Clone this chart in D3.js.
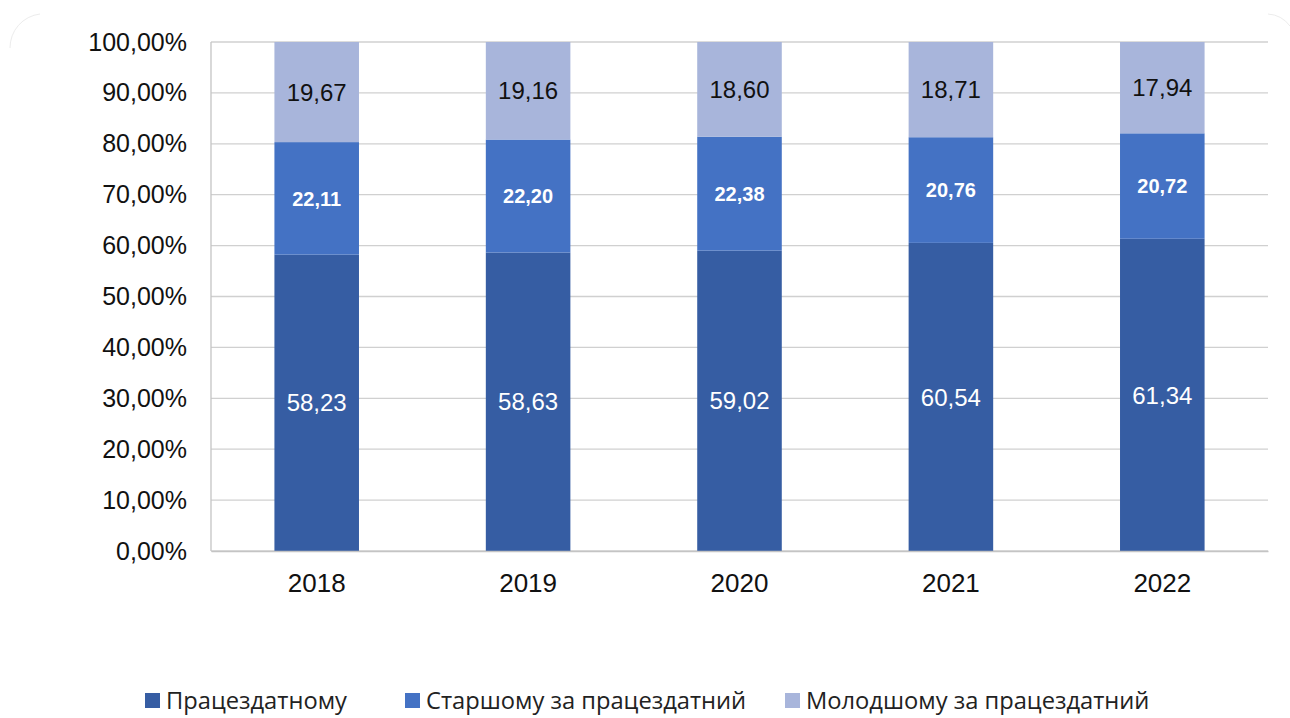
<!DOCTYPE html>
<html>
<head>
<meta charset="utf-8">
<script src="https://cdn.jsdelivr.net/npm/d3@7"></script>
<style>
  body { margin: 0; background: #fff; }
  svg { display: block; }
</style>
</head>
<body>
<div id="chart"></div>
<script>
// data
const years = ["2018", "2019", "2020", "2021", "2022"];
const working = [58.23, 58.63, 59.02, 60.54, 61.34];
const older = [22.11, 22.20, 22.38, 20.76, 20.72];
const younger = [19.67, 19.16, 18.60, 18.71, 17.94];
const seriesNames = ["Працездатному", "Старшому за працездатний", "Молодшому за працездатний"];
const yTicks = [0, 10, 20, 30, 40, 50, 60, 70, 80, 90, 100];

const colors = ["#365da3", "#4472c4", "#a8b5db"];

const width = 1290, height = 718;
const margin = {top: 42, right: 22, bottom: 167, left: 211};

const svg = d3.select("#chart").append("svg")
  .attr("width", width)
  .attr("height", height);

// faint rounded corners of the frame (only the corners show)
svg.append("path")
  .attr("d", "M10,48 A34,34 0 0 1 40,14")
  .attr("fill", "none")
  .attr("stroke", "#ececec");
svg.append("path")
  .attr("d", "M1268,14 A30,30 0 0 1 1290,26")
  .attr("fill", "none")
  .attr("stroke", "#ececec");

const rows = years.map((y, i) => ({year: y, a: working[i], b: older[i], c: younger[i]}));
const stack = d3.stack().keys(["a", "b", "c"]).offset(d3.stackOffsetExpand);
const stacked = stack(rows);

const x = d3.scaleBand()
  .domain(years)
  .range([margin.left, width - margin.right])
  .paddingInner(0.6)
  .paddingOuter(0.3);

const y = d3.scaleLinear()
  .domain([0, 1])
  .range([height - margin.bottom, margin.top]);

// gridlines
svg.append("g")
  .selectAll("line")
  .data(yTicks)
  .join("line")
  .attr("x1", margin.left)
  .attr("x2", width - margin.right)
  .attr("y1", d => y(d / 100))
  .attr("y2", d => y(d / 100))
  .attr("stroke", "#d0d0d0")
  .attr("stroke-width", 1.3);

// left axis line
svg.append("line")
  .attr("x1", margin.left).attr("x2", margin.left)
  .attr("y1", margin.top).attr("y2", height - margin.bottom)
  .attr("stroke", "#c4c4c4")
  .attr("stroke-width", 1.3);

// bars
const layer = svg.append("g")
  .selectAll("g")
  .data(stacked)
  .join("g")
  .attr("fill", (d, i) => colors[i]);

layer.selectAll("rect")
  .data(d => d)
  .join("rect")
  .attr("x", d => x(d.data.year))
  .attr("y", d => y(d[1]))
  .attr("width", x.bandwidth())
  .attr("height", d => y(d[0]) - y(d[1]));

// value labels
const fmt = v => v.toFixed(2).replace(".", ",");
const labelStyle = [
  {fill: "#ffffff", weight: "normal", size: 24},
  {fill: "#ffffff", weight: "bold", size: 20},
  {fill: "#111111", weight: "normal", size: 24}
];
const keys = ["a", "b", "c"];

stacked.forEach((s, si) => {
  svg.append("g")
    .selectAll("text")
    .data(s)
    .join("text")
    .attr("x", d => x(d.data.year) + x.bandwidth() / 2)
    .attr("y", d => (y(d[0]) + y(d[1])) / 2)
    .attr("dy", "0.36em")
    .attr("text-anchor", "middle")
    .attr("font-family", "Liberation Sans, Arial, sans-serif")
    .attr("font-size", labelStyle[si].size)
    .attr("font-weight", labelStyle[si].weight)
    .attr("fill", labelStyle[si].fill)
    .text(d => fmt(d.data[keys[si]]));
});

// y axis
const yAxis = d3.axisLeft(y)
  .tickValues(yTicks.map(d => d / 100))
  .tickSize(0)
  .tickPadding(24)
  .tickFormat(d => fmt(d * 100) + "%");

const yg = svg.append("g")
  .attr("transform", `translate(${margin.left},0)`)
  .call(yAxis);
yg.select(".domain").remove();
yg.selectAll("text")
  .attr("font-family", "Liberation Sans, Arial, sans-serif")
  .attr("font-size", 25)
  .attr("fill", "#111");

// x axis
const xAxis = d3.axisBottom(x).tickSize(0).tickPadding(23);
const xg = svg.append("g")
  .attr("transform", `translate(0,${height - margin.bottom})`)
  .call(xAxis);
xg.select(".domain").attr("stroke", "#c4c4c4").attr("stroke-width", 1.3);
xg.selectAll("text")
  .attr("font-family", "Liberation Sans, Arial, sans-serif")
  .attr("font-size", 26)
  .attr("fill", "#111");

// legend
const legendX = [145, 405, 785];
const legend = svg.append("g")
  .selectAll("g")
  .data(seriesNames)
  .join("g")
  .attr("transform", (d, i) => `translate(${legendX[i]},700)`);

legend.append("rect")
  .attr("x", 0).attr("y", -7)
  .attr("width", 15).attr("height", 15)
  .attr("fill", (d, i) => colors[i]);

legend.append("text")
  .attr("x", 21)
  .attr("y", 1)
  .attr("dy", "0.35em")
  .attr("font-family", "Open Sans, Noto Sans, sans-serif")
  .attr("font-size", 23.7)
  .attr("fill", "#222")
  .text(d => d);
</script>
</body>
</html>
